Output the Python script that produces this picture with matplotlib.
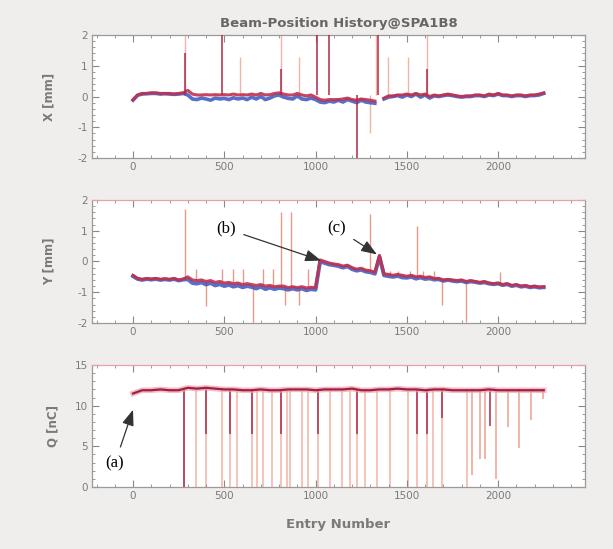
import numpy as np
import matplotlib
matplotlib.use("Agg")
import matplotlib.pyplot as plt
from matplotlib.ticker import MultipleLocator

plt.rcParams["axes.unicode_minus"] = False

# ---------------- data ----------------
entry = np.arange(0, 2251, 25)

x_red = [-0.10, 0.05, 0.10, 0.10, 0.12, 0.12, 0.10, 0.10, 0.10, 0.08, 0.10, 0.12,
         0.20, 0.08, 0.05, 0.05, 0.06, 0.05, 0.06, 0.05, 0.06, 0.05, 0.08, 0.05,
         0.06, 0.05, 0.08, 0.05, 0.10, 0.05, 0.06, 0.10, 0.12, 0.08, 0.05, 0.05,
         0.10, 0.05, 0.02, 0.05, -0.02, -0.10, -0.12, -0.10, -0.10, -0.10, -0.08, -0.05,
         -0.10, -0.12, -0.08, -0.10, -0.12, -0.15, np.nan, -0.05, 0.02, 0.02, 0.05, 0.05,
         0.08, 0.05, 0.10, 0.05, 0.08, 0.00, 0.05, 0.02, 0.05, 0.08, 0.05, 0.02,
         0.00, 0.02, 0.02, 0.05, 0.05, 0.02, 0.08, 0.05, 0.10, 0.05, 0.05, 0.02,
         0.05, 0.05, 0.02, 0.05, 0.05, 0.08, 0.12]
x_blue = [-0.12, 0.04, 0.08, 0.09, 0.10, 0.10, 0.08, 0.09, 0.08, 0.07, 0.08, 0.10,
          0.05, -0.08, -0.10, -0.05, -0.08, -0.12, -0.05, -0.08, -0.06, -0.10, -0.04, -0.08,
          -0.05, -0.10, -0.02, -0.08, 0.00, -0.10, -0.05, 0.02, 0.05, -0.02, -0.06, -0.08,
          0.02, -0.08, -0.10, -0.05, -0.10, -0.18, -0.20, -0.15, -0.18, -0.12, -0.18, -0.10,
          -0.15, -0.20, -0.12, -0.18, -0.20, -0.22, np.nan, -0.08, -0.02, 0.00, 0.03, -0.02,
          0.05, 0.00, 0.08, -0.02, 0.05, -0.05, 0.02, 0.00, 0.03, 0.05, 0.03, 0.00,
          -0.02, 0.00, 0.00, 0.03, 0.03, 0.00, 0.05, 0.03, 0.08, 0.03, 0.03, 0.00,
          0.03, 0.03, 0.00, 0.03, 0.03, 0.05, 0.10]

y_red = [-0.45, -0.55, -0.58, -0.55, -0.57, -0.55, -0.58, -0.56, -0.58, -0.55, -0.60, -0.57,
         -0.50, -0.60, -0.62, -0.60, -0.65, -0.62, -0.68, -0.65, -0.70, -0.68, -0.72, -0.70,
         -0.75, -0.72, -0.75, -0.78, -0.75, -0.80, -0.78, -0.82, -0.80, -0.80, -0.85, -0.82,
         -0.85, -0.82, -0.86, -0.84, -0.85, 0.05, 0.00, -0.05, -0.08, -0.10, -0.15, -0.12,
         -0.20, -0.25, -0.22, -0.28, -0.30, -0.35, 0.20, -0.40, -0.42, -0.45, -0.42, -0.45,
         -0.48, -0.45, -0.50, -0.48, -0.52, -0.50, -0.55, -0.55, -0.60, -0.58, -0.60, -0.62,
         -0.60, -0.65, -0.62, -0.65, -0.68, -0.65, -0.70, -0.72, -0.70, -0.75, -0.72, -0.78,
         -0.75, -0.80, -0.78, -0.82, -0.80, -0.83, -0.82]
y_blue = [-0.48, -0.57, -0.60, -0.57, -0.59, -0.57, -0.60, -0.58, -0.60, -0.57, -0.62, -0.59,
          -0.58, -0.70, -0.72, -0.68, -0.75, -0.70, -0.78, -0.74, -0.80, -0.76, -0.82, -0.78,
          -0.84, -0.80, -0.83, -0.88, -0.82, -0.90, -0.85, -0.90, -0.86, -0.88, -0.92, -0.88,
          -0.92, -0.88, -0.94, -0.90, -0.92, 0.00, -0.05, -0.10, -0.12, -0.15, -0.20, -0.16,
          -0.25, -0.30, -0.27, -0.33, -0.35, -0.40, 0.15, -0.45, -0.48, -0.50, -0.47, -0.52,
          -0.53, -0.50, -0.56, -0.52, -0.57, -0.55, -0.59, -0.58, -0.63, -0.60, -0.63, -0.65,
          -0.63, -0.68, -0.65, -0.67, -0.70, -0.68, -0.72, -0.74, -0.72, -0.77, -0.74, -0.80,
          -0.77, -0.82, -0.80, -0.84, -0.82, -0.85, -0.84]

q_entry = np.arange(0, 2251, 50)
q_val = [11.5, 11.9, 11.9, 12.0, 11.9, 11.9, 12.2, 12.1, 12.2, 12.1, 12.0, 12.0,
         11.9, 11.9, 12.0, 11.9, 11.9, 12.0, 12.0, 12.0, 11.9, 12.0, 12.0, 12.0,
         12.1, 11.9, 11.9, 12.0, 12.0, 12.1, 12.0, 12.0, 11.9, 12.0, 12.0, 11.9,
         11.9, 11.9, 11.9, 12.0, 11.9, 11.9, 11.9, 11.9, 11.9, 11.9]

# single-entry outliers: position, level reached
x_spike_light_pos = [285, 586, 809, 909, 1298, 1329, 1397, 1505, 1608]
x_spike_light_val = [2.0, 1.3, 2.0, 1.3, -1.2, 2.0, 1.3, 1.3, 2.0]
x_spike_dark_pos = [285, 488, 809, 1006, 1073, 1227, 1342, 1608]
x_spike_dark_val = [1.4, 2.0, 0.9, 2.0, 2.0, -2.0, 2.0, 0.9]

y_spike_pos = [285, 345, 400, 490, 545, 600, 657, 711, 767, 809, 830, 865, 908, 960,
               1298, 1410, 1450, 1520, 1553, 1590, 1650, 1690, 1824, 2010]
y_spike_base = [-0.55, -0.6, -0.6, -0.65, -0.68, -0.72, -0.75, -0.78, -0.8, -0.8, -0.82, -0.82,
                -0.85, -0.86, -0.3, -0.42, -0.42, -0.45, -0.5, -0.5, -0.55, -0.58, -0.62, -0.72]
y_spike_val = [1.7, -0.25, -1.45, -0.25, -0.25, -0.25, -2.0, -0.25, -0.25, 1.6, -1.4, 1.6,
               -1.4, -0.25, 1.55, -0.3, -0.3, -0.3, 1.15, -0.3, -0.3, -1.42, -1.97, -0.35]

q_drop_light_pos = [281, 345, 400, 489, 531, 568, 650, 677, 714, 759, 809, 841, 860, 924,
                    960, 1015, 1079, 1143, 1188, 1229, 1271, 1335, 1407, 1508, 1553, 1608,
                    1645, 1690, 1827]
q_drop_dark_pos = [281, 400, 531, 650, 809, 1015, 1229, 1553, 1608, 1690, 1955]
q_drop_dark_val = [0.0, 6.5, 6.5, 6.5, 6.5, 6.5, 6.5, 6.5, 6.5, 8.5, 7.5]
q_drop_part_pos = [1855, 1900, 1928, 1991, 2053, 2117, 2180, 2245]
q_drop_part_val = [1.5, 3.5, 3.5, 1.0, 7.4, 4.8, 8.2, 10.8]

# ---------------- figure ----------------
fig = plt.figure(figsize=(6.13, 5.49), dpi=100, facecolor="#f0eeed")
L, W, H = 0.150, 0.804, 0.224
ax1 = fig.add_axes([L, 0.7122, W, H])
ax2 = fig.add_axes([L, 0.4117, W, H])
ax3 = fig.add_axes([L, 0.1129, W, 0.2222])

grey = "#7a7a7a"
red = "#c0304c"
blue = "#3a56c0"
light = "#f2b4a4"
dark = "#b02848"

for ax in (ax1, ax2, ax3):
    ax.set_xlim(-225, 2475)
    ax.xaxis.set_major_locator(MultipleLocator(500))
    ax.xaxis.set_minor_locator(MultipleLocator(100))
    ax.tick_params(which="both", direction="in", top=True, right=True,
                   colors="#888888", labelcolor=grey, labelsize=7.5, pad=3)
    ax.tick_params(which="major", length=5, width=0.8)
    ax.tick_params(which="minor", length=2.5, width=0.6)
    for s in ax.spines.values():
        s.set_color("#9a9a9a")
        s.set_linewidth(0.9)
    ax.set_facecolor("white")

# X panel
ax1.vlines(x_spike_light_pos, 0.05, x_spike_light_val, color=light, lw=1.0, zorder=1)
ax1.plot(entry, x_blue, color=blue, lw=2.6, alpha=0.85, zorder=2)
ax1.plot(entry, x_red, color=red, lw=2.2, alpha=0.9, zorder=3)
ax1.vlines(x_spike_dark_pos, 0.05, x_spike_dark_val, color=dark, lw=1.1, zorder=3)
ax1.set_ylim(-2, 2)
ax1.yaxis.set_major_locator(MultipleLocator(1))
ax1.yaxis.set_minor_locator(MultipleLocator(0.2))
ax1.set_ylabel("X [mm]", color=grey, fontsize=8.5, fontweight="bold", labelpad=16)
ax1.set_title("Beam-Position History@SPA1B8", color="#666666", fontsize=9.5,
              fontweight="bold", pad=6)

# Y panel
ax2.vlines(y_spike_pos, y_spike_base, y_spike_val, color="#e89a88", lw=1.0, zorder=1)
ax2.plot(entry, y_blue, color=blue, lw=2.8, alpha=0.85, zorder=2)
ax2.plot(entry, y_red, color=red, lw=2.2, alpha=0.9, zorder=3)
ax2.set_ylim(-2, 2)
ax2.yaxis.set_major_locator(MultipleLocator(1))
ax2.yaxis.set_minor_locator(MultipleLocator(0.2))
ax2.set_ylabel("Y [mm]", color=grey, fontsize=8.5, fontweight="bold", labelpad=16)
ax2.spines["top"].set_color("#e8a0a8")

# Q panel
ax3.vlines(q_drop_light_pos, 0, 12.0, color=light, lw=1.1, zorder=1)
ax3.vlines(q_drop_part_pos, q_drop_part_val, 12.0, color="#eea090", lw=1.1, zorder=1)
ax3.vlines(q_drop_dark_pos, q_drop_dark_val, 12.0, color=dark, lw=1.1, zorder=2)
ax3.plot(q_entry, q_val, color="#f0a0b0", lw=4.0, alpha=0.7, zorder=2)
ax3.plot(q_entry, q_val, color="#a02040", lw=1.6, zorder=3)
ax3.set_ylim(0, 15)
ax3.yaxis.set_major_locator(MultipleLocator(5))
ax3.yaxis.set_minor_locator(MultipleLocator(1))
ax3.set_ylabel("Q [nC]", color=grey, fontsize=8.5, fontweight="bold", labelpad=11)
ax3.set_xlabel("Entry Number", color=grey, fontsize=9.5, fontweight="bold", labelpad=12)
ax3.spines["top"].set_color("#e8a0a8")

# labels for notable events
arrow = dict(arrowstyle="-|>,head_length=0.8,head_width=0.3", color="#333333",
             lw=0.9, shrinkA=4, shrinkB=0)
serif = ["Liberation Serif", "DejaVu Serif"]
ax2.annotate("(b)", xy=(1030, 0.03), xytext=(509, 1.07), fontsize=12, family=serif,
             ha="center", va="center", arrowprops=arrow)
ax2.annotate("(c)", xy=(1336, 0.23), xytext=(1117, 1.07), fontsize=12, family=serif,
             ha="center", va="center", arrowprops=arrow)
ax3.annotate("(a)", xy=(0, 9.5), xytext=(-99, 2.95), fontsize=12, family=serif,
             ha="center", va="center", arrowprops=arrow)

fig.savefig("out.png", dpi=100, facecolor=fig.get_facecolor())
